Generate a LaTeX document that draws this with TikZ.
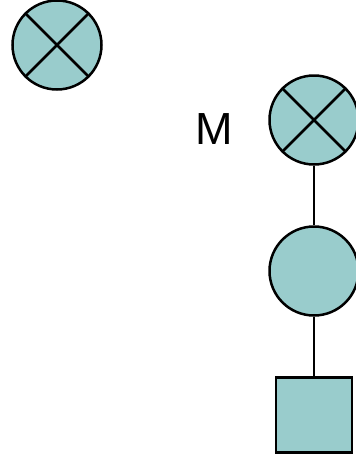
\documentclass[tikz,border=0pt]{standalone}
\usepackage{fontspec}
\setmainfont{Liberation Sans}
\definecolor{teal1}{HTML}{99CCCC}
\begin{document}
\begin{tikzpicture}[x=1pt,y=-1pt,
  shp/.style={draw=black,fill=teal1,line width=2.5pt,inner sep=0pt},
  pcirc/.style={shp,circle,minimum size=89pt},
  sq/.style={shp,rectangle,minimum width=76pt,minimum height=75pt},
  link/.style={line width=2.5pt}]
\useasboundingbox (0,0) rectangle (356,458);
\node[pcirc] (x1) at (57,45) {};
\draw[link] (x1.north west) -- (x1.south east) (x1.north east) -- (x1.south west);
\node[pcirc] (x2) at (314,120) {};
\draw[link] (x2.north west) -- (x2.south east) (x2.north east) -- (x2.south west);
\node[font=\fontsize{45}{50}\selectfont] (m) at (214,129) {M};
\node[pcirc] (c) at (314,271) {};
\node[sq] (s) at (314,415) {};
\draw[link] (x2) -- (c);
\draw[link] (c) -- (s);
\end{tikzpicture}
\end{document}
